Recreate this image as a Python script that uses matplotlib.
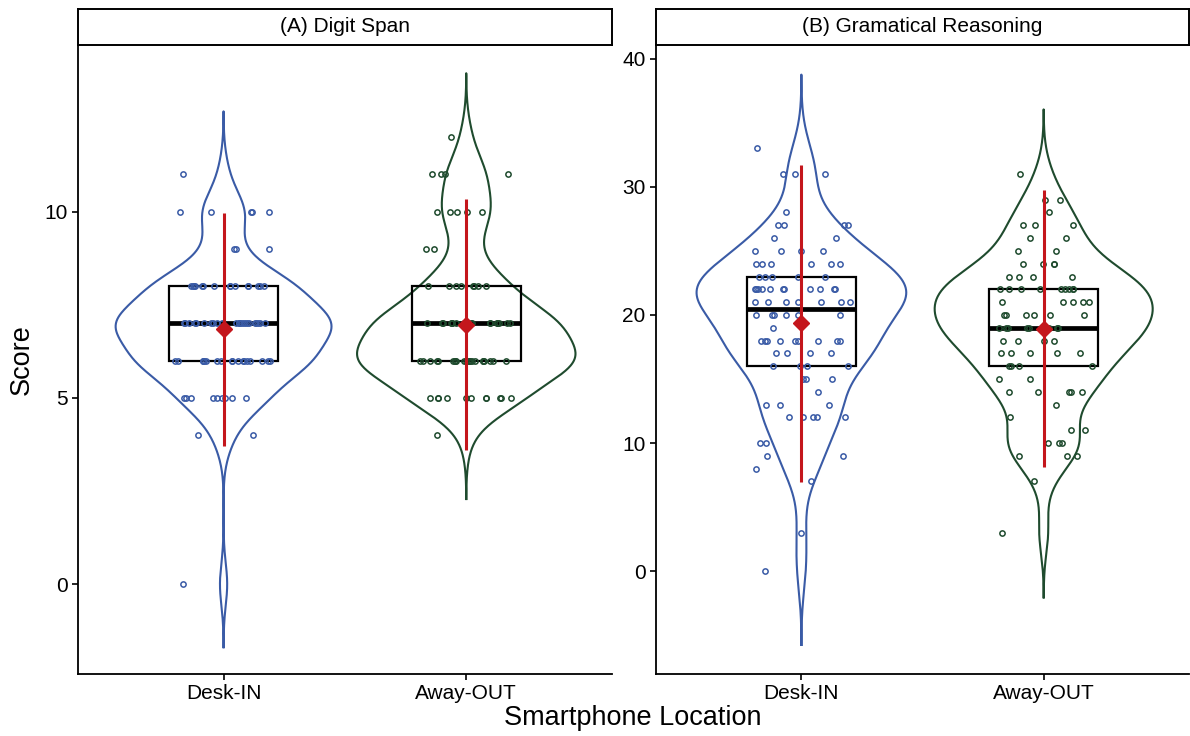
import numpy as np
import matplotlib
matplotlib.use("Agg")
import matplotlib.pyplot as plt
from matplotlib.patches import Rectangle

plt.rcParams['font.family'] = ['Liberation Sans', 'DejaVu Sans']

# groups on the x axis
groups = ['Desk-IN', 'Away-OUT']
panel_titles = ['(A) Digit Span', '(B) Gramatical Reasoning']

# (A) digit span: score levels and how many participants sit at each
ds_desk_scores = [0, 4, 5, 6, 7, 8, 9, 10, 11]
ds_desk_counts = [1, 2, 9, 18, 23, 15, 3, 5, 1]
ds_away_scores = [4, 5, 6, 7, 8, 9, 10, 11, 12]
ds_away_counts = [1, 11, 22, 18, 8, 2, 5, 4, 1]

# (B) grammatical reasoning
gr_desk_scores = [0, 3, 7, 8, 9, 10, 12, 13, 14, 15, 16, 17, 18, 19, 20, 21, 22, 23, 24, 25, 26, 27, 28, 31, 33]
gr_desk_counts = [1, 1, 1, 1, 2, 2, 5, 3, 1, 3, 4, 4, 9, 1, 6, 7, 11, 5, 6, 4, 2, 4, 1, 3, 1]
gr_away_scores = [3, 7, 9, 10, 11, 12, 13, 14, 15, 16, 17, 18, 19, 20, 21, 22, 23, 24, 25, 26, 27, 28, 29, 31]
gr_away_counts = [1, 1, 3, 3, 2, 1, 1, 5, 2, 4, 5, 4, 8, 6, 5, 9, 4, 4, 2, 2, 3, 1, 2, 1]

# red summary (mean and half length of the bar)
ds_means = [6.84, 6.97]
ds_err = [3.12, 3.37]
gr_means = [19.36, 18.92]
gr_err = [12.37, 10.80]

colors = ['#3A5BA6', '#1F4B2E']
red = '#C4161C'


def nrd0(x):
    sd = np.std(x, ddof=1)
    iqr = np.subtract(*np.percentile(x, [75, 25]))
    lo = min(sd, iqr / 1.34)
    return 0.9 * lo * len(x) ** (-0.2)


def kde(x, bw):
    grid = np.linspace(x.min() - 3 * bw, x.max() + 3 * bw, 512)
    d = np.exp(-0.5 * ((grid[:, None] - x[None, :]) / bw) ** 2).sum(axis=1)
    d = d / (len(x) * bw * np.sqrt(2 * np.pi))
    return grid, d


def draw_panel(ax, data, means, errs, seed):
    rng = np.random.default_rng(seed)
    dens = [kde(d, nrd0(d)) for d in data]
    dmax = max(dd.max() for _, dd in dens)
    for i, d in enumerate(data):
        pos = i + 1
        grid, dd = dens[i]
        w = 0.45 * dd / dmax
        ax.plot(np.concatenate([pos + w, (pos - w)[::-1]]),
                np.concatenate([grid, grid[::-1]]),
                color=colors[i], lw=1.5, zorder=2)
        q1, med, q3 = np.percentile(d, [25, 50, 75])
        ax.add_patch(Rectangle((pos - 0.225, q1), 0.45, q3 - q1, fill=False,
                               edgecolor='black', lw=1.6, zorder=3))
        ax.plot([pos - 0.225, pos + 0.225], [med, med], color='black', lw=3.4,
                solid_capstyle='butt', zorder=3)
        xj = pos + rng.uniform(-0.2, 0.2, len(d))
        ax.plot(xj, d, 'o', ms=3.8, mfc='none', mec=colors[i], mew=1.1, zorder=4)
        ax.plot([pos, pos], [means[i] - errs[i], means[i] + errs[i]], color=red,
                lw=2.2, solid_capstyle='butt', zorder=5)
        ax.plot(pos, means[i], 'D', color=red, ms=8.5, zorder=6)
    ax.set_xlim(0.4, 2.6)
    ax.set_xticks([1, 2])
    ax.set_xticklabels(groups)
    for s in ['top', 'right']:
        ax.spines[s].set_visible(False)
    for s in ['left', 'bottom']:
        ax.spines[s].set_linewidth(1.3)
    ax.tick_params(axis='both', labelsize=15, length=4, width=1.2, colors='black')


ds = [np.repeat(ds_desk_scores, ds_desk_counts).astype(float),
      np.repeat(ds_away_scores, ds_away_counts).astype(float)]
gr = [np.repeat(gr_desk_scores, gr_desk_counts).astype(float),
      np.repeat(gr_away_scores, gr_away_counts).astype(float)]

fig = plt.figure(figsize=(11.9, 7.36), dpi=100)
ax1 = fig.add_axes([0.0655, 0.0842, 0.4487, 0.8546])
ax2 = fig.add_axes([0.5513, 0.0842, 0.4479, 0.8546])

draw_panel(ax1, ds, ds_means, ds_err, 3)
ax1.set_ylim(-2.41, 14.47)
ax1.set_yticks([0, 5, 10])

draw_panel(ax2, gr, gr_means, gr_err, 11)
ax2.set_ylim(-8.03, 41.07)
ax2.set_yticks([0, 10, 20, 30, 40])

# facet strips
for ax, title in zip([ax1, ax2], panel_titles):
    p = ax.get_position()
    st = fig.add_axes([p.x0, 0.9389, p.width, 0.0489])
    st.set_xticks([])
    st.set_yticks([])
    for s in st.spines.values():
        s.set_linewidth(1.4)
    st.text(0.5, 0.5, title, ha='center', va='center', fontsize=15)

fig.text(0.018, 0.5115, 'Score', rotation=90, ha='center', va='center', fontsize=19.5)
fig.text(0.532, 0.024, 'Smartphone Location', ha='center', va='center', fontsize=19.5)

fig.savefig('out.png', dpi=100)
